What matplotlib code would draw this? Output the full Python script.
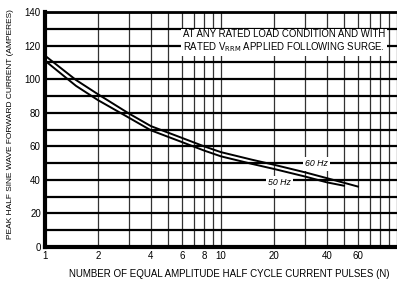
import matplotlib
matplotlib.use("Agg")
import matplotlib.pyplot as plt
from matplotlib.ticker import FixedLocator, NullFormatter

# pulses N and peak surge current (A)
n_60 = [1, 1.5, 2, 3, 4, 6, 8, 10, 15, 20, 30, 40, 60]
i_60 = [114, 99.5, 91, 79.5, 72, 65, 60, 56.5, 52, 49, 44.5, 41, 36]
n_50 = [1, 1.5, 2, 3, 4, 6, 8, 10, 15, 20, 30, 40, 50]
i_50 = [111, 96, 87.5, 77, 69.5, 62.5, 57.5, 54, 49.5, 46.5, 42, 38.5, 36.5]

x_ticks = [1, 2, 4, 6, 8, 10, 20, 40, 60]
x_grid = [1, 2, 3, 4, 5, 6, 7, 8, 9, 10, 20, 30, 40, 50, 60, 70, 80, 90, 100]
y_ticks = list(range(0, 141, 20))
y_grid = list(range(0, 141, 10))

plt.rcParams['font.family'] = ['Liberation Sans', 'DejaVu Sans']

fig = plt.figure(figsize=(3.97, 2.82), dpi=100)
ax = fig.add_axes([45 / 397, 1 - 247 / 282, 352 / 397, 235 / 282])

ax.set_xscale('log')
ax.set_xlim(1, 100)
ax.set_ylim(0, 140)

for g in x_grid:
    ax.axvline(g, color='#333333', lw=0.9, zorder=1)
for g in y_grid:
    ax.axhline(g, color='black', lw=1.6, zorder=1)

ax.plot(n_60, i_60, color='black', lw=1.4, zorder=3)
ax.plot(n_50, i_50, color='black', lw=1.4, zorder=3)

ax.xaxis.set_major_locator(FixedLocator(x_ticks))
ax.xaxis.set_minor_locator(FixedLocator([]))
ax.xaxis.set_minor_formatter(NullFormatter())
ax.set_xticklabels([str(t) for t in x_ticks])
ax.set_yticks(y_ticks)
ax.tick_params(axis='both', length=0, labelsize=7, pad=3)

for side in ['left', 'bottom']:
    ax.spines[side].set_linewidth(3)
ax.spines['top'].set_linewidth(2)
ax.spines['right'].set_visible(False)

ax.text(35, 49.5, '60 Hz', fontsize=6.3, style='italic', ha='center', va='center',
        bbox=dict(fc='white', ec='none', pad=1.5), zorder=4)
ax.text(21.5, 38.5, '50 Hz', fontsize=6.3, style='italic', ha='center', va='center',
        bbox=dict(fc='white', ec='none', pad=1.5), zorder=4)

ax.text(0.392, 0.874, 'AT ANY RATED LOAD CONDITION AND WITH\nRATED V$_{\\rm RRM}$ APPLIED FOLLOWING SURGE.',
        transform=ax.transAxes, fontsize=6.9, ha='left', va='center', linespacing=1.1,
        bbox=dict(fc='white', ec='none', pad=1.5), zorder=4)

ax.set_xlabel('NUMBER OF EQUAL AMPLITUDE HALF CYCLE CURRENT PULSES (N)', fontsize=7)
ax.xaxis.set_label_coords(0.523, -0.095)
ax.set_ylabel('PEAK HALF SINE WAVE FORWARD CURRENT (AMPERES)', fontsize=6)
ax.yaxis.set_label_coords(-0.088, 0.525)

fig.savefig('out.png', dpi=100)
